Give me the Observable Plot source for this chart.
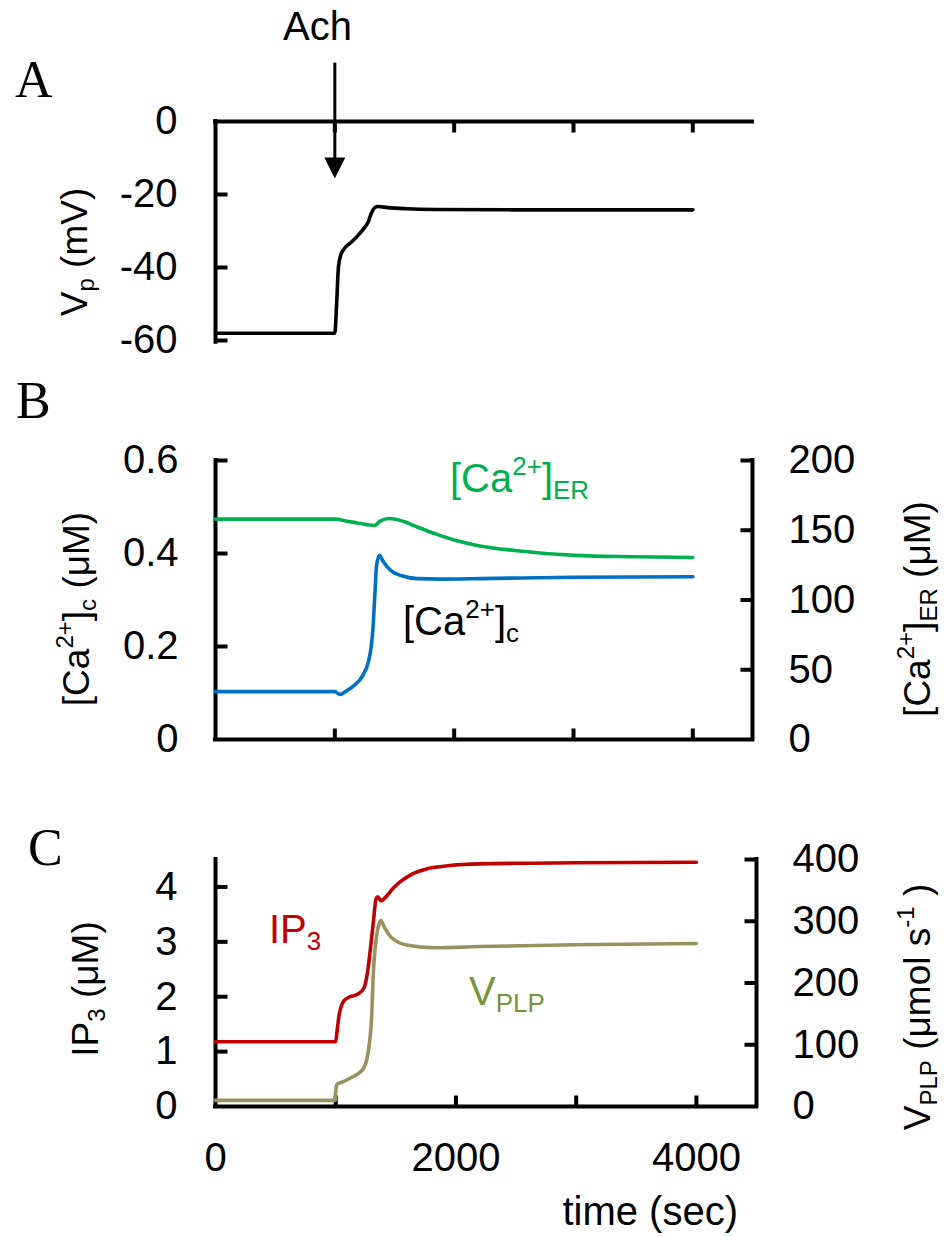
<!DOCTYPE html>
<html><head><meta charset="utf-8">
<script src="https://cdn.jsdelivr.net/npm/d3@7"></script>
<script src="https://cdn.jsdelivr.net/npm/@observablehq/plot@0.6"></script>
<style>
body{margin:0;background:#fff;}
#chart{width:945px;}
#chart svg{display:block;}
</style></head><body><div id="chart"></div>
<script>
// ---------- data ----------
const xTickVals = [1000, 2000, 3000, 4000];
const xTickLabels = [0, 2000, 4000];
const achTime = 1000;

// Panel A: plasma membrane potential
const timeVp = [0, 1000, 1015, 1030, 1050, 1080, 1140, 1195, 1250, 1280, 1305, 1335, 1360, 1445, 1600, 1835, 2500, 3000, 4000];
const vp     = [-58, -58, -50, -40, -36.5, -34.8, -33.0, -31.2, -29.0, -27.5, -25.2, -23.6, -23.3, -23.6, -23.9, -24.1, -24.2, -24.2, -24.2];
const vpTicks = [0, -20, -40, -60];

// Panel B: cytosolic and ER calcium
const timeCaC = [0, 1000, 1020, 1045, 1100, 1160, 1235, 1280, 1305, 1320, 1335, 1350, 1375, 1400, 1470, 1560, 1690, 1900, 2225, 3000, 4000];
const caC     = [0.103, 0.103, 0.100, 0.097, 0.105, 0.116, 0.138, 0.166, 0.200, 0.241, 0.310, 0.375, 0.396, 0.385, 0.363, 0.352, 0.346, 0.345, 0.346, 0.349, 0.350];
const timeCaER = [0, 1000, 1100, 1200, 1330, 1380, 1455, 1550, 1700, 1835, 2000, 2227, 2506, 3010, 3500, 4000];
const caER     = [158, 158, 156.5, 155, 153.4, 156.5, 158.4, 157, 152, 147.7, 143, 138.6, 135.5, 132, 131, 130.5];
const caCTicks = [0, 0.2, 0.4, 0.6];
const caERTicks = [0, 50, 100, 150, 200];

// Panel C: IP3 and PLC rate
const timeIP3 = [0, 1000, 1010, 1030, 1050, 1070, 1120, 1185, 1235, 1265, 1290, 1315, 1335, 1350, 1375, 1400, 1430, 1480, 1540, 1640, 1760, 1950, 2200, 3000, 4000];
const ip3     = [1.18, 1.18, 1.35, 1.69, 1.85, 1.93, 2.0, 2.05, 2.16, 2.45, 2.9, 3.4, 3.78, 3.82, 3.75, 3.78, 3.85, 3.98, 4.1, 4.24, 4.33, 4.39, 4.42, 4.44, 4.45];
const timeVPLP = [0, 995, 1000, 1010, 1060, 1130, 1230, 1280, 1300, 1310, 1335, 1360, 1375, 1400, 1460, 1600, 1820, 2200, 3000, 4000];
const vPLP     = [10, 10, 25, 36, 40, 47, 61, 102, 150, 204, 269, 295, 301, 292, 274, 261, 257, 259, 262, 264];
const ip3Ticks = [0, 1, 2, 3, 4];
const vPLPTicks = [0, 100, 200, 300, 400];

// ---------- styling helpers ----------
const W = 945;
const FONT = "'Liberation Sans', Arial, Helvetica, sans-serif";
const SERIF = "'Liberation Serif', 'Times New Roman', serif";
const TICK_FS = 40, LABEL_FS = 37, CURVE_FS = 40;
const LW = 3.6;
const AX = {stroke: "black", strokeWidth: 4, strokeLinecap: "square"};

const tickRight = {draw(c){ c.moveTo(0,0); c.lineTo(12,0); }};
const tickLeft  = {draw(c){ c.moveTo(0,0); c.lineTo(-12,0); }};
const tickUp    = {draw(c){ c.moveTo(0,0); c.lineTo(0,-11); }};
const tickDown  = {draw(c){ c.moveTo(0,0); c.lineTo(0,11); }};
const arrowHead = {draw(c){ c.moveTo(0,0); c.lineTo(-10.5,-21); c.lineTo(10.5,-21); c.closePath(); }};

const tickDots = (vals, opts) => Plot.dot(vals, {r: 1, stroke: "black", strokeWidth: 4, fill: "none", ...opts});
const series = (ts, vs, f = v => v) => ts.map((t, i) => ({t, v: f(vs[i])}));

function rich(svg, {x, y, parts, size = LABEL_FS, fill = "black", anchor = "start", rotate = 0, family = FONT}) {
  const t = d3.select(svg).append("text")
    .attr("transform", `translate(${x},${y}) rotate(${rotate})`)
    .attr("text-anchor", anchor).attr("font-family", family)
    .attr("font-size", size).attr("fill", fill);
  let off = 0;
  for (const [s, k] of parts) {
    const target = k === "sup" ? -0.42 * size : k === "sub" ? 0.18 * size : 0;
    const fs = k ? 0.65 * size : size;
    t.append("tspan").attr("dy", target - off).attr("font-size", fs).text(s);
    off = target;
  }
}

const baseStyle = {fontFamily: FONT, fontSize: "40px", background: "white", overflow: "visible"};

// ---------- Panel A ----------
const plotA = Plot.plot({
  width: W, height: 400,
  marginTop: 121, marginBottom: 60, marginLeft: 215, marginRight: 193,
  x: {domain: [0, 4500], axis: null},
  y: {domain: [-60, 0], axis: null},
  style: baseStyle,
  marks: [
    Plot.ruleX([0], {y1: -60.5, y2: 0, ...AX}),
    Plot.ruleY([0], {x1: 0, x2: 4500, ...AX}),
    tickDots([-60, -40, -20], {x: 0, y: d => d, symbol: tickRight}),
    tickDots(xTickVals, {x: d => d, y: 0, symbol: tickDown}),
    Plot.text(vpTicks, {x: 0, y: d => d, text: d => String(d), textAnchor: "end", dx: -38, fontSize: TICK_FS}),
    Plot.line(series(timeVp, vp), {x: "t", y: "v", stroke: "black", strokeWidth: LW, curve: "monotone-x"}),
    Plot.ruleX([achTime], {y1: 16, y2: -12, stroke: "black", strokeWidth: 3}),
    Plot.dot([achTime], {x: d => d, y: -15.6, symbol: arrowHead, r: 1, fill: "black", stroke: "none"})
  ]
});
rich(plotA, {x: 15, y: 97, parts: [["A"]], size: 52, family: SERIF});
rich(plotA, {x: 283, y: 40, parts: [["Ach"]], size: 40});
rich(plotA, {x: 87, y: 252, rotate: -90, anchor: "middle", parts: [["V"], ["p", "sub"], [" (mV)"]]});

// ---------- Panel B ----------
const kER = 0.6 / 200;
const plotB = Plot.plot({
  width: W, height: 380,
  marginTop: 60, marginBottom: 41, marginLeft: 215, marginRight: 193,
  x: {domain: [0, 4500], axis: null},
  y: {domain: [0, 0.6], axis: null},
  style: baseStyle,
  marks: [
    Plot.ruleX([0], {y1: 0, y2: 0.6, ...AX}),
    Plot.ruleX([4500], {y1: 0, y2: 0.6, ...AX}),
    Plot.ruleY([0], {x1: 0, x2: 4500, ...AX}),
    tickDots([0.2, 0.4, 0.6], {x: 0, y: d => d, symbol: tickRight}),
    tickDots([50, 100, 150, 200], {x: 4500, y: d => d * kER, symbol: tickLeft}),
    tickDots(xTickVals, {x: d => d, y: 0, symbol: tickUp}),
    Plot.text(caCTicks, {x: 0, y: d => d, text: d => d === 0 ? "0" : d.toFixed(1), textAnchor: "end", dx: -37, fontSize: TICK_FS}),
    Plot.text(caERTicks, {x: 4500, y: d => d * kER, text: d => String(d), textAnchor: "start", dx: 36, fontSize: TICK_FS}),
    Plot.line(series(timeCaER, caER, v => v * kER), {x: "t", y: "v", stroke: "#00B050", strokeWidth: LW, curve: "monotone-x"}),
    Plot.line(series(timeCaC, caC), {x: "t", y: "v", stroke: "#0070C0", strokeWidth: LW, curve: "monotone-x"})
  ]
});
rich(plotB, {x: 16, y: 18, parts: [["B"]], size: 52, family: SERIF});
rich(plotB, {x: 89, y: 209, rotate: -90, anchor: "middle", parts: [["[Ca"], ["2+", "sup"], ["]"], ["c", "sub"], [" (μM)"]]});
rich(plotB, {x: 930, y: 209, rotate: -90, anchor: "middle", parts: [["[Ca"], ["2+", "sup"], ["]"], ["ER", "sub"], [" (μM)"]]});
rich(plotB, {x: 450, y: 92, size: CURVE_FS, fill: "#00B050", parts: [["[Ca"], ["2+", "sup"], ["]"], ["ER", "sub"]]});
rich(plotB, {x: 403, y: 235, size: CURVE_FS, parts: [["[Ca"], ["2+", "sup"], ["]"], ["c", "sub"]]});

// ---------- Panel C ----------
const kV = 4.5 / 400;
const plotC = Plot.plot({
  width: W, height: 456,
  marginTop: 79, marginBottom: 130, marginLeft: 215, marginRight: 189,
  x: {domain: [0, 4500], axis: null},
  y: {domain: [0, 4.5], axis: null},
  style: baseStyle,
  marks: [
    Plot.ruleX([0], {y1: 0, y2: 4.5, ...AX}),
    Plot.ruleX([4500], {y1: 0, y2: 4.5, ...AX}),
    Plot.ruleY([0], {x1: 0, x2: 4500, ...AX}),
    tickDots([1, 2, 3, 4], {x: 0, y: d => d, symbol: tickRight}),
    tickDots([100, 200, 300, 400], {x: 4500, y: d => d * kV, symbol: tickLeft}),
    tickDots(xTickVals, {x: d => d, y: 0, symbol: tickUp}),
    Plot.text(ip3Ticks, {x: 0, y: d => d, text: d => String(d), textAnchor: "end", dx: -38, fontSize: TICK_FS}),
    Plot.text(vPLPTicks, {x: 4500, y: d => d * kV, text: d => String(d), textAnchor: "start", dx: 36, fontSize: TICK_FS}),
    Plot.text(xTickLabels, {x: d => d, y: 0, text: d => String(d), dy: 52, fontSize: TICK_FS}),
    Plot.line(series(timeIP3, ip3), {x: "t", y: "v", stroke: "#C00000", strokeWidth: LW, curve: "monotone-x"}),
    Plot.line(series(timeVPLP, vPLP, v => v * kV), {x: "t", y: "v", stroke: "#9A9060", strokeWidth: LW, curve: "monotone-x"})
  ]
});
rich(plotC, {x: 28, y: 85, parts: [["C"]], size: 52, family: SERIF});
rich(plotC, {x: 98, y: 209, rotate: -90, anchor: "middle", parts: [["IP"], ["3", "sub"], [" (μM)"]]});
rich(plotC, {x: 930, y: 227, rotate: -90, anchor: "middle", parts: [["V"], ["PLP", "sub"], [" (μmol s"], ["-1", "sup"], [" )"]]});
rich(plotC, {x: 269, y: 163, size: CURVE_FS, fill: "#C00000", parts: [["IP"], ["3", "sub"]]});
rich(plotC, {x: 469, y: 225, size: CURVE_FS, fill: "#77933C", parts: [["V"], ["PLP", "sub"]]});
rich(plotC, {x: 738, y: 445, anchor: "end", size: 40, parts: [["time (sec)"]]});

const root = document.getElementById("chart");
root.append(plotA, plotB, plotC);
</script>
</body></html>
